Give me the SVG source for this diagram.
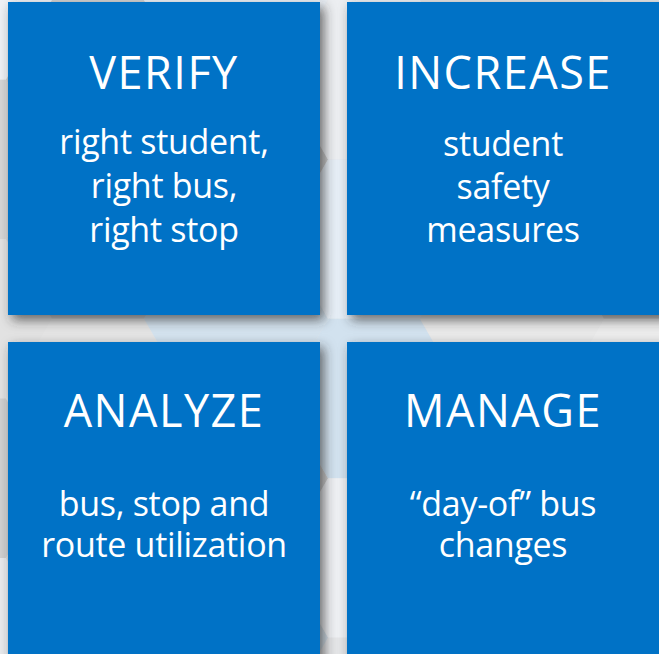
<svg xmlns="http://www.w3.org/2000/svg" xmlns:xlink="http://www.w3.org/1999/xlink" width="659" height="654" viewBox="0 0 659 654">
  <defs>
    <polygon id="hx" points="-92,0 -46,-79.7 46,-79.7 92,0 46,79.7 -46,79.7"/>
    <filter id="sh" x="-10%" y="-10%" width="130%" height="130%">
      <feDropShadow dx="4" dy="5" stdDeviation="6" flood-color="#2e2e2e" flood-opacity="0.7"/>
    </filter>
    <style>
      .box { fill: #0072C6; filter: url(#sh); }
      .title { font-family: "Open Sans", "Liberation Sans", sans-serif; font-size: 45px; letter-spacing: 1.5px; fill: #ffffff; text-anchor: middle; }
      .sub { font-family: "Open Sans", "Liberation Sans", sans-serif; font-size: 34px; letter-spacing: -0.3px; fill: #ffffff; text-anchor: middle; }
    </style>
  </defs>

  <g id="background">
    <rect x="0" y="0" width="659" height="654" fill="#e4e5e7"/>
    <g stroke="none">
      <use xlink:href="#hx" x="-40" y="0" fill="#eef1f5"/>
      <use xlink:href="#hx" x="-40" y="159.4" fill="#d6d6d6"/>
      <use xlink:href="#hx" x="-40" y="318.8" fill="#e2e2e2"/>
      <use xlink:href="#hx" x="-40" y="478.2" fill="#d0d0d0"/>
      <use xlink:href="#hx" x="-40" y="637.6" fill="#e8eaed"/>
      <use xlink:href="#hx" x="98" y="-79.7" fill="#e6e6e6"/>
      <use xlink:href="#hx" x="98" y="79.7" fill="#cfcfcf"/>
      <use xlink:href="#hx" x="98" y="239.1" fill="#d2d4d8"/>
      <use xlink:href="#hx" x="98" y="398.5" fill="#e4e4e4"/>
      <use xlink:href="#hx" x="98" y="557.9" fill="#dcdcdc"/>
      <use xlink:href="#hx" x="236" y="0" fill="#e9eef4"/>
      <use xlink:href="#hx" x="236" y="159.4" fill="#c8c8c8"/>
      <use xlink:href="#hx" x="236" y="318.8" fill="#d3e2ee"/>
      <use xlink:href="#hx" x="236" y="478.2" fill="#cccccc"/>
      <use xlink:href="#hx" x="236" y="637.6" fill="#d0dce6"/>
      <use xlink:href="#hx" x="374" y="-79.7" fill="#f0f3f7"/>
      <use xlink:href="#hx" x="374" y="79.7" fill="#eceef1"/>
      <use xlink:href="#hx" x="374" y="239.1" fill="#e6eef6"/>
      <use xlink:href="#hx" x="374" y="398.5" fill="#d2e2ef"/>
      <use xlink:href="#hx" x="374" y="557.9" fill="#eef0f3"/>
      <use xlink:href="#hx" x="512" y="0" fill="#e2e2e2"/>
      <use xlink:href="#hx" x="512" y="159.4" fill="#dcdcdc"/>
      <use xlink:href="#hx" x="512" y="318.8" fill="#e9e9e9"/>
      <use xlink:href="#hx" x="512" y="478.2" fill="#dadada"/>
      <use xlink:href="#hx" x="512" y="637.6" fill="#e4e4e4"/>
      <use xlink:href="#hx" x="650" y="-79.7" fill="#d8d8d8"/>
      <use xlink:href="#hx" x="650" y="79.7" fill="#e6e6e6"/>
      <use xlink:href="#hx" x="650" y="239.1" fill="#d4d4d4"/>
      <use xlink:href="#hx" x="650" y="398.5" fill="#ececec"/>
      <use xlink:href="#hx" x="650" y="557.9" fill="#dedede"/>
    </g>
  </g>

  <g id="connectors"/>

  <g id="node-verify">
    <rect class="box" x="8" y="2" width="312" height="313"/>
    <text class="title" x="164" y="89">VERIFY</text>
    <text class="sub" x="164" y="154">right student,</text>
    <text class="sub" x="164" y="198">right bus,</text>
    <text class="sub" x="164" y="242">right stop</text>
  </g>

  <g id="node-increase">
    <rect class="box" x="347" y="2" width="320" height="313"/>
    <text class="title" x="503" y="89">INCREASE</text>
    <text class="sub" x="503" y="156">student</text>
    <text class="sub" x="503" y="199">safety</text>
    <text class="sub" x="503" y="242">measures</text>
  </g>

  <g id="node-analyze">
    <rect class="box" x="8" y="342" width="312" height="320"/>
    <text class="title" x="164" y="427">ANALYZE</text>
    <text class="sub" x="164" y="516">bus, stop and</text>
    <text class="sub" x="164" y="557">route utilization</text>
  </g>

  <g id="node-manage">
    <rect class="box" x="347" y="342" width="320" height="320"/>
    <text class="title" x="503" y="427">MANAGE</text>
    <text class="sub" x="503" y="516">“day-of” bus</text>
    <text class="sub" x="503" y="557">changes</text>
  </g>
</svg>
